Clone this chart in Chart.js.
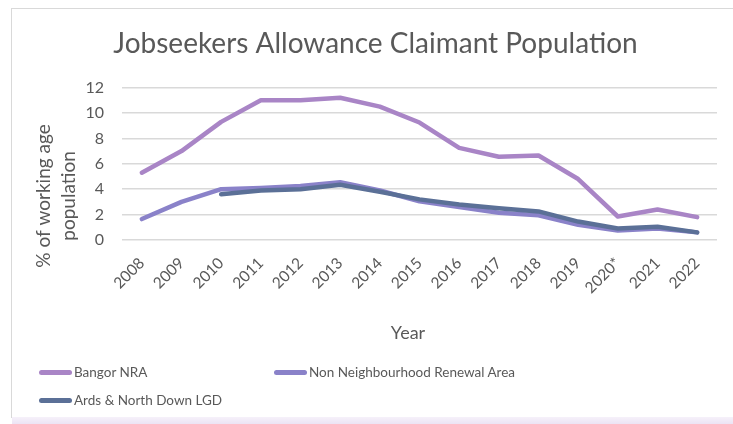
<!DOCTYPE html>
<html>
<head>
<meta charset="utf-8">
<script src="https://cdn.jsdelivr.net/npm/chart.js@4/dist/chart.umd.min.js"></script>
<style>
  html, body { margin: 0; padding: 0; background: #fff; overflow: hidden; }
  body { width: 733px; height: 424px; position: relative; font-family: Lato, "Noto Sans", sans-serif; }
  #frame { position: absolute; left: 11px; top: 8px; width: 740px; height: 408px; border: 1px solid #d9d9d9; border-right: none; }
  #shade { position: absolute; left: 12px; top: 417px; width: 730px; height: 7px; background: linear-gradient(#f6f1fa, #ece3f4); }
  #wrap { position: absolute; left: 0; top: 0; width: 733px; height: 424px; }
  #legend { position: absolute; left: 0; top: 0; width: 733px; height: 424px; pointer-events: none; }
  .item { position: absolute; display: flex; align-items: center; font-size: 13.5px; color: #595959; white-space: nowrap; }
  .swatch { width: 33px; height: 5px; border-radius: 3px; margin-right: 2px; }
</style>
</head>
<body>
<div id="frame"></div>
<div id="shade"></div>
<div id="wrap"><canvas id="chart" width="733" height="424"></canvas></div>
<div id="legend"></div>
<script>
const years = ['2008', '2009', '2010', '2011', '2012', '2013', '2014', '2015', '2016', '2017', '2018', '2019', '2020*', '2021', '2022'];
const bangorNRA = [5.3, 7.0, 9.3, 11.0, 11.0, 11.2, 10.5, 9.25, 7.25, 6.55, 6.65, 4.8, 1.85, 2.4, 1.8];
const nonNRA = [1.65, 3.0, 4.0, 4.1, 4.25, 4.55, 3.9, 3.05, 2.6, 2.15, 1.95, 1.2, 0.75, 0.9, 0.6];
const ardsLGD = [null, null, 3.6, 3.9, 4.0, 4.35, 3.8, 3.2, 2.8, 2.5, 2.25, 1.45, 0.9, 1.05, 0.6];
const seriesNames = ['Bangor NRA', 'Non Neighbourhood Renewal Area', 'Ards & North Down LGD'];
const seriesColors = ['#a985c6', '#8a82c9', '#5b7097'];
const yTicks = [0, 2, 4, 6, 8, 10, 12];
const yTitle = ['% of working age', 'population'];
const xTitle = 'Year';

const textColor = '#595959';
const fontFamily = 'Lato, "Noto Sans", sans-serif';

function lineSet(i, data, order) {
    return {
        label: seriesNames[i],
        data: data,
        borderColor: seriesColors[i],
        backgroundColor: seriesColors[i],
        borderWidth: 4.5,
        borderCapStyle: 'round',
        borderJoinStyle: 'round',
        pointRadius: 0,
        tension: 0,
        fill: false,
        order: order
    };
}

// axis titles sit where Excel put them, not centred on the plot
const axisTitles = {
    id: 'axisTitles',
    afterDraw(chart) {
        const c = chart.ctx;
        c.save();
        c.fillStyle = textColor;
        c.textAlign = 'center';
        c.textBaseline = 'middle';
        c.font = '19px ' + fontFamily;
        yTitle.forEach((line, i) => {
            c.save();
            c.translate(44 + i * 25, 196);
            c.rotate(-Math.PI / 2);
            c.fillText(line, 0, 0);
            c.restore();
        });
        c.font = '18px ' + fontFamily;
        c.fillText(xTitle, 408, 333);
        c.restore();
    }
};

const ctx = document.getElementById('chart').getContext('2d');
new Chart(ctx, {
    type: 'line',
    data: {
        labels: years,
        datasets: [
            lineSet(0, bangorNRA, 2),
            lineSet(1, nonNRA, 1),
            lineSet(2, ardsLGD, 0)
        ]
    },
    options: {
        responsive: false,
        animation: false,
        layout: { padding: { left: 34, right: 16, top: 0, bottom: 80 } },
        plugins: {
            legend: { display: false },
            tooltip: { enabled: false },
            title: {
                display: true,
                text: 'Jobseekers Allowance Claimant Population',
                color: textColor,
                font: { family: fontFamily, size: 28, weight: 'normal' },
                padding: { top: 27, bottom: 27 }
            }
        },
        scales: {
            x: {
                offset: true,
                grid: { display: false, drawTicks: false },
                border: { display: false },
                ticks: {
                    color: textColor,
                    font: { family: fontFamily, size: 15.5 },
                    minRotation: 45,
                    maxRotation: 45,
                    padding: 14,
                    autoSkip: false
                },
                afterFit: function(scale) { scale.height = 104; }
            },
            y: {
                min: 0,
                max: 12,
                afterBuildTicks: function(scale) {
                    scale.ticks = yTicks.map(v => ({ value: v }));
                },
                grid: { color: '#d9d9d9', lineWidth: 1.5, drawTicks: false },
                border: { display: false },
                ticks: {
                    color: textColor,
                    font: { family: fontFamily, size: 16 },
                    padding: 18
                },
                afterFit: function(scale) { scale.width = 88; }
            }
        }
    },
    plugins: [axisTitles]
});

// legend laid out like the original: two columns, wrapping to a second row
const legendPos = [[39, 374], [274, 374], [39, 402]];
const legend = document.getElementById('legend');
seriesNames.forEach((name, i) => {
    const item = document.createElement('div');
    item.className = 'item';
    item.style.left = legendPos[i][0] + 'px';
    item.style.top = (legendPos[i][1] - 10) + 'px';
    item.innerHTML = '<span class="swatch" style="background:' + seriesColors[i] + '"></span>';
    item.appendChild(document.createTextNode(name));
    legend.appendChild(item);
});
</script>
</body>
</html>
